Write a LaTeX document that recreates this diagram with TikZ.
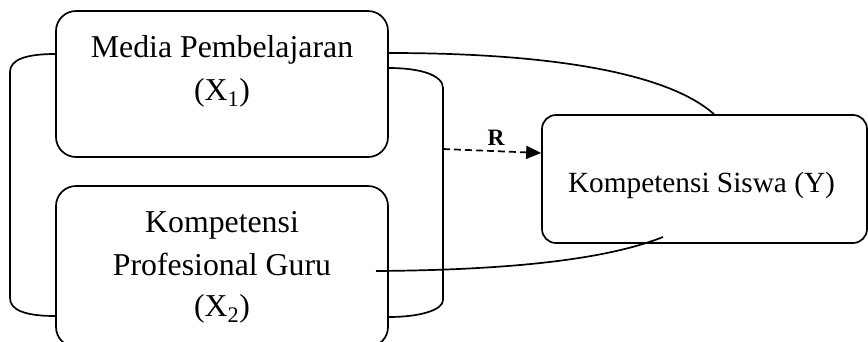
\documentclass[tikz,border=0pt]{standalone}
\usepackage{fontspec}
\setmainfont{Liberation Serif}
\usetikzlibrary{arrows.meta}

\tikzset{
  box/.style={draw, line width=1.7pt, rounded corners=20pt, inner sep=0pt},
  boxy/.style={draw, line width=1.7pt, rounded corners=14pt, inner sep=0pt},
  txt/.style={inner sep=0pt, anchor=base, font=\fontsize{31.8}{38}\selectfont},
  txty/.style={inner sep=0pt, anchor=base, font=\fontsize{29.3}{35}\selectfont},
  link/.style={line width=1.7pt},
  rel/.style={line width=1.7pt, dash pattern=on 7pt off 4pt,
    -{Triangle[length=15pt,width=13pt]}},
  rlabel/.style={inner sep=0pt, anchor=base, font=\fontsize{23.5}{27}\selectfont\bfseries}
}

\begin{document}
\begin{tikzpicture}[x=1pt, y=-1pt]
\useasboundingbox (0,0) rectangle (868,341);

% the three variable boxes
\node[box, minimum width=332pt, minimum height=146pt] (media) at (222,84) {};
\node[box, minimum width=332pt, minimum height=161pt] (guru) at (222,266.5) {};
\node[boxy, minimum width=325pt, minimum height=128pt] (siswa) at (704.5,179) {};

% labels
\node[txt] (mediaA) at (222,57) {Media Pembelajaran};
\node[txt] (mediaB) at (222,100) {(X\textsubscript{1})};
\node[txt] (guruA) at (222,232) {Kompetensi};
\node[txt] (guruB) at (222,275) {Profesional Guru};
\node[txt] (guruC) at (222,316) {(X\textsubscript{2})};
\node[txty] (siswaA) at (701.5,192) {Kompetensi Siswa (Y)};

% left bracket joining X1 and X2
\draw[link] (media.west |- 0,54) .. controls (25,54) and (10,60) .. (10,72)
  -- (10,298) .. controls (10,310) and (25,316) .. (guru.west |- 0,316);

% right bracket joining X1 and X2
\coordinate (rb) at (443,149);
\draw[link] (media.east |- 0,68) .. controls (420,68) and (443,75) .. (443,88)
  -- (443,300) .. controls (443,310) and (420,317) .. (guru.east |- 0,317);

% individual links to Y
\draw[link] (media.east |- 0,53) .. controls (560,53) and (670,75) .. (siswa.north -| 714,0);
\coordinate (gstart) at (376,271);
\coordinate (yend) at (663,237);
\draw[link] (gstart) .. controls (520,270) and (610,258) .. (yend);

% joint relation R
\draw[rel] (rb) -- (siswa.west |- 0,153);
\node[rlabel] (r) at (496,145) {R};
\end{tikzpicture}
\end{document}
